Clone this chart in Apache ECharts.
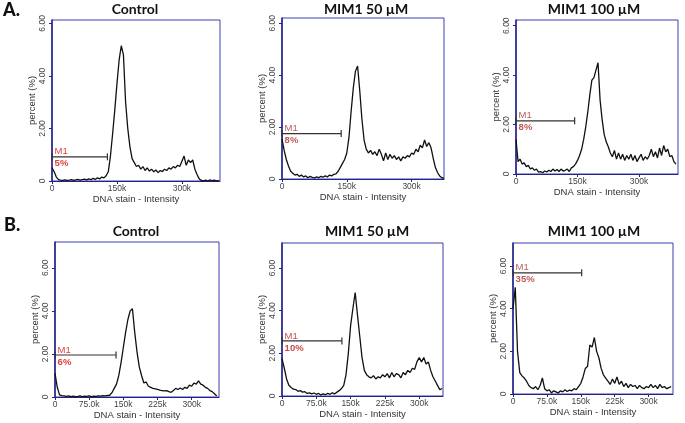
<!DOCTYPE html>
<html>
<head>
<meta charset="utf-8">
<script src="https://cdn.jsdelivr.net/npm/echarts@6/dist/echarts.min.js"></script>
<style>
html, body { margin: 0; padding: 0; background: #ffffff; }
#chart { width: 685px; height: 423px; }
</style>
</head>
<body>
<div id="chart"></div>
<script>
// DNA histograms, bins are 5k wide starting at 0
const binWidth = 5000;

const titles = ['Control', 'MIM1 50 µM', 'MIM1 100 µM', 'Control', 'MIM1 50 µM', 'MIM1 100 µM'];
const rowLetters = ['A.', 'B.'];

const a1Control = [
  0.50, 0.35, 0.15, 0.05, 0.03, 0.02, 0.04, 0.02, 0.03, 0.05,
  0.02, 0.04, 0.06, 0.03, 0.05, 0.07, 0.04, 0.08, 0.05, 0.10,
  0.06, 0.12, 0.08, 0.15, 0.12, 0.20, 0.35, 0.95, 1.80, 2.70,
  3.70, 4.60, 5.15, 4.80, 3.00, 2.00, 1.30, 0.85, 0.70, 0.55,
  0.60, 0.45, 0.55, 0.40, 0.50, 0.38, 0.45, 0.35, 0.42, 0.32,
  0.40, 0.36, 0.45, 0.40, 0.50, 0.45, 0.55, 0.50, 0.60, 0.55,
  0.75, 0.95, 0.60, 0.80, 0.70, 0.80, 0.45, 0.25, 0.08, 0.02,
  0.00, 0.03, 0.00, 0.04, 0.01, 0.03, 0.00, 0.02
];
const a2Mim50 = [
  1.55, 1.10, 0.75, 0.50, 0.30, 0.22, 0.15, 0.18, 0.10, 0.15,
  0.08, 0.12, 0.05, 0.10, 0.06, 0.04, 0.08, 0.05, 0.10, 0.07,
  0.12, 0.08, 0.15, 0.12, 0.18, 0.20, 0.30, 0.45, 0.60, 0.75,
  1.00, 1.60, 2.60, 3.50, 4.15, 4.35, 3.40, 2.30, 1.50, 1.15,
  1.00, 1.10, 0.95, 1.05, 0.90, 1.15, 0.95, 0.70, 1.00, 0.75,
  0.95, 0.80, 0.90, 0.75, 0.85, 0.70, 0.85, 0.80, 0.90, 0.85,
  1.00, 0.95, 1.15, 1.05, 1.30, 1.20, 1.50, 1.25, 1.40, 1.20,
  0.80, 0.45, 0.25, 0.12, 0.05, 0.02
];
const a3Mim100 = [
  1.40, 0.50, 0.60, 0.40, 0.45, 0.30, 0.35, 0.20, 0.25, 0.15,
  0.20, 0.08, 0.10, 0.05, 0.12, 0.08, 0.15, 0.10, 0.20, 0.12,
  0.18, 0.10, 0.20, 0.12, 0.15, 0.20, 0.10, 0.25, 0.30, 0.40,
  0.55, 0.75, 1.00, 1.40, 1.90, 2.50, 3.20, 3.80, 3.90, 4.20,
  4.50, 3.00, 2.20, 1.60, 1.30, 1.10, 0.85, 0.70, 0.95, 0.60,
  0.85, 0.60, 0.80, 0.55, 0.75, 0.60, 0.80, 0.55, 0.75, 0.50,
  0.65, 0.80, 0.55, 0.70, 0.60, 0.75, 1.00, 0.70, 0.90, 0.65,
  1.05, 0.75, 1.15, 0.90, 1.00, 0.70, 0.75, 0.50, 0.40
];
const b1Control = [
  1.10, 0.45, 0.10, 0.06, 0.05, 0.03, 0.05, 0.02, 0.04, 0.02,
  0.03, 0.05, 0.02, 0.04, 0.03, 0.05, 0.02, 0.04, 0.03, 0.05,
  0.04, 0.06, 0.05, 0.07, 0.08, 0.20, 0.40, 0.60, 1.00, 1.60,
  2.30, 3.00, 3.60, 4.00, 4.10, 3.00, 2.10, 1.40, 1.00, 0.65,
  0.70, 0.50, 0.45, 0.40, 0.38, 0.35, 0.32, 0.30, 0.28, 0.30,
  0.25, 0.22, 0.30, 0.40, 0.35, 0.42, 0.35, 0.45, 0.40, 0.55,
  0.50, 0.65, 0.60, 0.75, 0.60, 0.55, 0.45, 0.40, 0.30, 0.25,
  0.15, 0.05
];
const b2Mim50 = [
  1.75, 1.30, 0.80, 0.50, 0.40, 0.32, 0.30, 0.22, 0.25, 0.18,
  0.20, 0.12, 0.15, 0.10, 0.14, 0.08, 0.12, 0.05, 0.10, 0.06,
  0.12, 0.08, 0.15, 0.10, 0.18, 0.25, 0.35, 0.50, 1.00, 2.00,
  3.30, 4.10, 4.85, 3.80, 2.80, 1.80, 1.20, 1.00, 0.90, 0.85,
  0.95, 0.80, 0.90, 0.85, 1.00, 0.90, 1.05, 0.85, 1.10, 0.90,
  1.05, 1.00, 0.85, 1.10, 1.00, 1.20, 1.10, 1.30, 1.25, 1.60,
  1.80, 1.60, 1.80, 1.50, 1.60, 1.20, 0.90, 0.70, 0.50, 0.30,
  0.35
];
const b3Mim100 = [
  4.00, 5.00, 2.00, 1.00, 0.85, 0.75, 0.60, 0.40, 0.30, 0.25,
  0.35, 0.20, 0.40, 0.75, 0.25, 0.15, 0.20, 0.05, 0.15, 0.10,
  0.05, 0.15, 0.10, 0.20, 0.12, 0.18, 0.15, 0.25, 0.20, 0.35,
  0.50, 0.80, 1.20, 1.30, 2.30, 2.20, 2.65, 2.00, 1.70, 1.20,
  0.90, 0.75, 0.60, 0.45, 0.70, 0.50, 0.80, 0.45, 0.60, 0.35,
  0.50, 0.30, 0.45, 0.35, 0.40, 0.25, 0.40, 0.30, 0.25, 0.35,
  0.30, 0.45, 0.30, 0.40, 0.25, 0.45, 0.30, 0.35, 0.25, 0.30,
  0.35
];
const histograms = [a1Control, a2Mim50, a3Mim100, b1Control, b2Mim50, b3Mim100];

// M1 gate: drawn from 0 to m1Ends at height m1Levels
const m1Ends = [128000, 137000, 143000, 134000, 131000, 152000];
const m1Levels = [0.92, 1.75, 2.15, 1.95, 2.58, 5.68];
const m1Pcts = ['5%', '8%', '8%', '6%', '10%', '35%'];

// layout of the six plots (pixels) and axis extents
const panels = [
  { left: 52, top: 20, width: 168, height: 161, xMax: 388000, yMax: 6.13, xStep: 150000, tx: 135, ty: 2, red: '#e0403c' },
  { left: 282, top: 18, width: 162, height: 161, xMax: 375000, yMax: 6.2, xStep: 150000, tx: 366, ty: 2, red: '#bb5a56' },
  { left: 516, top: 20, width: 162, height: 154, xMax: 395000, yMax: 6.23, xStep: 150000, tx: 594, ty: 2, red: '#bb5a56' },
  { left: 55, top: 242, width: 164, height: 155, xMax: 360000, yMax: 7.2, xStep: 75000, tx: 136, ty: 224, red: '#e0403c' },
  { left: 282, top: 243, width: 161, height: 153, xMax: 352000, yMax: 7.17, xStep: 75000, tx: 367, ty: 224, red: '#c84a4a' },
  { left: 513, top: 243, width: 160, height: 151, xMax: 354000, yMax: 7.08, xStep: 75000, tx: 594, ty: 224, red: '#bb5a56' }
];

const labelFont = 'Liberation Sans, Arial, sans-serif';

function xLabel(v) {
  if (v === 0) return '0';
  const k = v / 1000;
  return (k < 100 ? k.toFixed(1) : k.toFixed(0)) + 'k';
}
function yLabel(v) {
  if (v === 0) return '0';
  return v.toFixed(2);
}

const grid = [], xAxis = [], yAxis = [], series = [], title = [];

panels.forEach((p, i) => {
  grid.push({
    left: p.left, top: p.top, width: p.width, height: p.height,
    show: true, borderColor: '#3c3cb0', borderWidth: 1, backgroundColor: 'transparent'
  });
  xAxis.push({
    gridIndex: i, type: 'value', min: 0, max: p.xMax, interval: p.xStep,
    name: 'DNA stain - Intensity', nameLocation: 'middle', nameGap: 13,
    nameTextStyle: { fontFamily: labelFont, fontSize: 9.5, color: '#333' },
    axisLine: { show: true, lineStyle: { color: '#22228a', width: 1 } },
    axisTick: { show: true, length: 3, lineStyle: { color: '#22228a' } },
    axisLabel: { fontFamily: labelFont, fontSize: 8.5, color: '#444', margin: 3, formatter: xLabel, showMaxLabel: false },
    splitLine: { show: false }
  });
  yAxis.push({
    gridIndex: i, type: 'value', min: 0, max: p.yMax, interval: 2,
    name: 'percent (%)', nameLocation: 'middle', nameGap: 15,
    nameTextStyle: { fontFamily: labelFont, fontSize: 9.5, color: '#333' },
    axisLine: { show: true, lineStyle: { color: '#22228a', width: 1.5 } },
    axisTick: { show: true, length: 3, lineStyle: { color: '#22228a' } },
    axisLabel: { fontFamily: labelFont, fontSize: 8.5, color: '#444', margin: 5, rotate: 90, formatter: yLabel, showMaxLabel: false },
    splitLine: { show: false }
  });
  series.push({
    type: 'line', xAxisIndex: i, yAxisIndex: i,
    data: histograms[i].map((v, k) => [k * binWidth, v]),
    symbol: 'none', lineStyle: { color: '#111111', width: 1.3 }, z: 3
  });
  series.push({
    type: 'line', xAxisIndex: i, yAxisIndex: i,
    data: [
      {
        value: [0, m1Levels[i]],
        label: {
          show: true, position: 'right', distance: 2, offset: [0, 1],
          formatter: '{m|M1}\n{p|' + m1Pcts[i] + '}',
          rich: {
            m: { fontFamily: labelFont, fontSize: 9.5, color: p.red, lineHeight: 12 },
            p: { fontFamily: labelFont, fontSize: 9.5, fontWeight: 'bold', color: p.red, lineHeight: 12 }
          }
        }
      },
      [m1Ends[i], m1Levels[i]]
    ],
    symbol: 'rect', symbolSize: [1.2, 7],
    itemStyle: { color: '#333333' },
    lineStyle: { color: '#333333', width: 1.2 }, z: 4
  });
  title.push({
    text: titles[i], left: p.tx, top: p.ty, textAlign: 'center', padding: 0,
    textStyle: { fontFamily: 'Lato, sans-serif', fontSize: 14, fontWeight: 'bold', color: '#111' }
  });
});

title.push({ text: rowLetters[0], left: 3, top: 1, padding: 0, textStyle: { fontFamily: 'Lato, sans-serif', fontSize: 18, fontWeight: 900, color: '#111' } });
title.push({ text: rowLetters[1], left: 4, top: 216, padding: 0, textStyle: { fontFamily: 'Lato, sans-serif', fontSize: 18, fontWeight: 900, color: '#111' } });

const chart = echarts.init(document.getElementById('chart'));
chart.setOption({
  animation: false,
  backgroundColor: '#ffffff',
  title: title,
  grid: grid,
  xAxis: xAxis,
  yAxis: yAxis,
  series: series
});
</script>
</body>
</html>
